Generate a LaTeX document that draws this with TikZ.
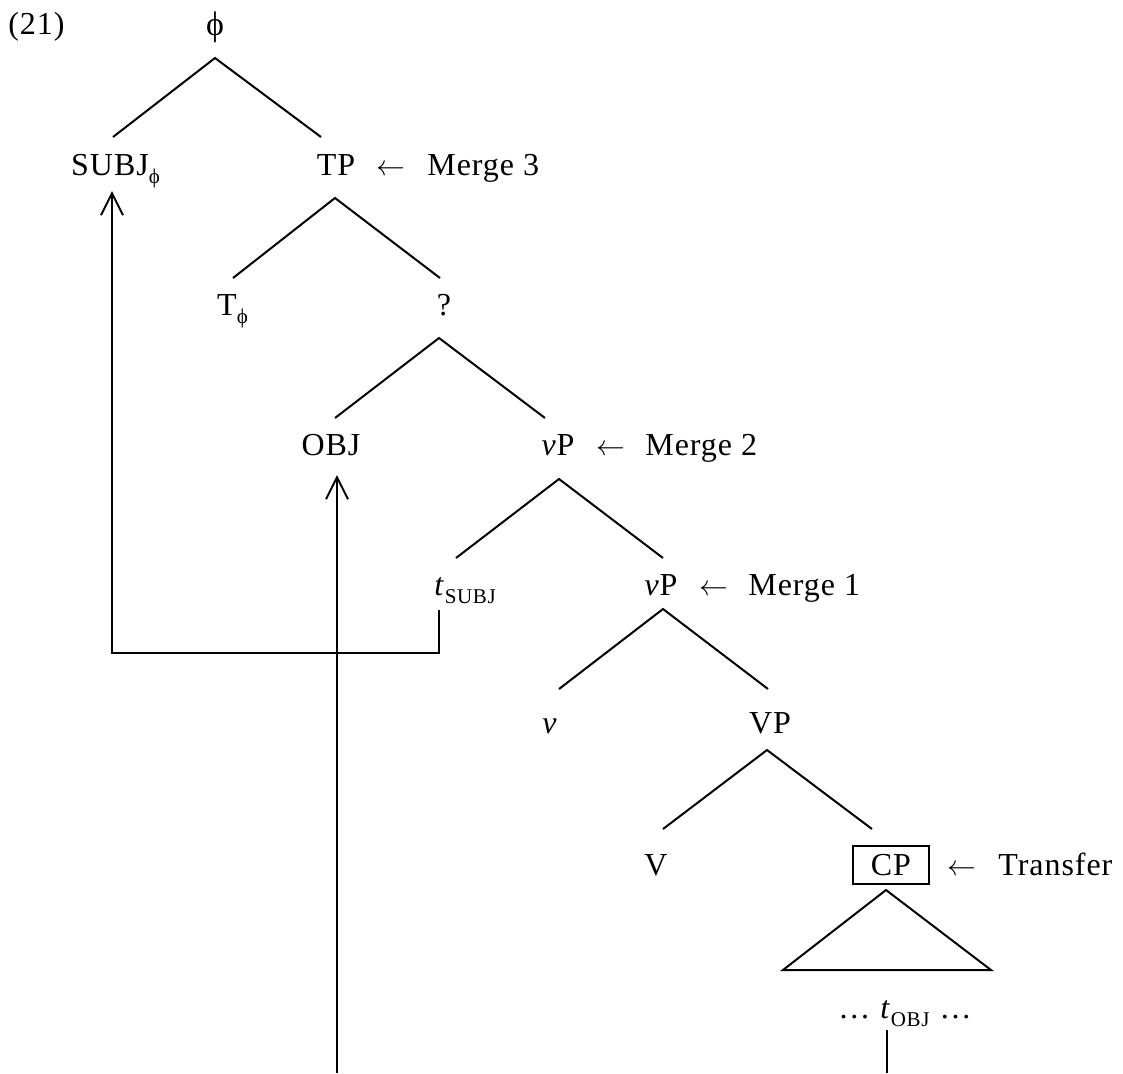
\documentclass[tikz,border=0pt]{standalone}
\usepackage{fontspec}
\setmainfont{Liberation Serif}[LetterSpace=3]
\usetikzlibrary{arrows.meta}
\newcommand\lsub[1]{\raisebox{-4pt}{\fontsize{10.5}{12}\selectfont #1}}
\newcommand\larr{{\fontsize{14.5}{16}\selectfont$\leftarrow$}}
\begin{document}
\begin{tikzpicture}[x=0.5pt,y=-0.5pt,
  lab/.style={anchor=base,inner sep=0pt,font=\fontsize{16}{19}\selectfont},
  labw/.style={lab,anchor=base west},
  br/.style={line width=1pt},
  mv/.style={line width=1pt,-{Straight Barb[length=11pt,width=11pt,line width=1pt]}}]
\useasboundingbox (0,0) rectangle (1123,1073);
% labels
\node[labw] (ex) at (8,34) {(21)};
\node[lab,font=\fontsize{17}{19}\selectfont] (phi) at (215,35) {ϕ};
\node[lab] (subj) at (110,175) {SUBJ\rlap{\lsub{ϕ}}};
\node[lab] (tp) at (336,175) {TP};
\node[lab] (arr3) at (391,175) {\larr};
\node[labw] (m3) at (427,175) {Merge 3};
\node[lab] (tphi) at (227,315) {T\rlap{\lsub{ϕ}}};
\node[lab] (q) at (444,315) {?};
\node[lab] (obj) at (331,455) {OBJ};
\node[lab] (vp2) at (558,455) {\textit{v}P};
\node[lab] (arr2) at (611,455) {\larr};
\node[labw] (m2) at (645,455) {Merge 2};
\node[labw] (tsubj) at (434,595) {\textit{t}\lsub{SUBJ}};
\node[lab] (vp1) at (661,595) {\textit{v}P};
\node[lab] (arr1) at (714,595) {\larr};
\node[labw] (m1) at (748,595) {Merge 1};
\node[lab] (v) at (550,733) {\textit{v}};
\node[lab] (vp) at (770,733) {VP};
\node[lab] (V) at (656,875) {V};
\node[lab,anchor=center,draw,line width=1pt,minimum width=38pt,minimum height=19pt] (cp) at (891,865) {CP};
\node[lab] (arrT) at (962,875) {\larr};
\node[labw] (tr) at (998,875) {Transfer};
\node[labw] (tobj) at (838,1018) {…\hspace{5pt}\textit{t}\lsub{OBJ}\hspace{5pt}…};
% branch points
\coordinate (a0) at (215,58);  \coordinate (l0) at (113,137); \coordinate (r0) at (321,137);
\coordinate (a1) at (335,198); \coordinate (l1) at (233,278); \coordinate (r1) at (440,278);
\coordinate (a2) at (439,338); \coordinate (l2) at (335,418); \coordinate (r2) at (545,418);
\coordinate (a3) at (559,479); \coordinate (l3) at (456,558); \coordinate (r3) at (663,558);
\coordinate (a4) at (663,609); \coordinate (l4) at (559,689); \coordinate (r4) at (768,689);
\coordinate (a5) at (767,750); \coordinate (l5) at (663,829); \coordinate (r5) at (872,829);
\coordinate (a6) at (886,890); \coordinate (l6) at (783,970); \coordinate (r6) at (991,970);
\draw[br] (l0) -- (a0) -- (r0);
\draw[br] (l1) -- (a1) -- (r1);
\draw[br] (l2) -- (a2) -- (r2);
\draw[br] (l3) -- (a3) -- (r3);
\draw[br] (l4) -- (a4) -- (r4);
\draw[br] (l5) -- (a5) -- (r5);
\draw[br] (a6) -- (l6) -- (r6) -- cycle;
% movement
\coordinate (tsf) at (439,610);
\coordinate (stip) at (112,191);
\draw[mv] (tsf) -- ++(0,43) -| (stip);
\coordinate (obot) at (337,1073);
\coordinate (otip) at (337,475);
\draw[mv] (obot) -- (otip);
\coordinate (tof) at (887,1030);
\coordinate (tobot) at (887,1073);
\draw[br] (tof) -- (tobot);
\end{tikzpicture}
\end{document}
